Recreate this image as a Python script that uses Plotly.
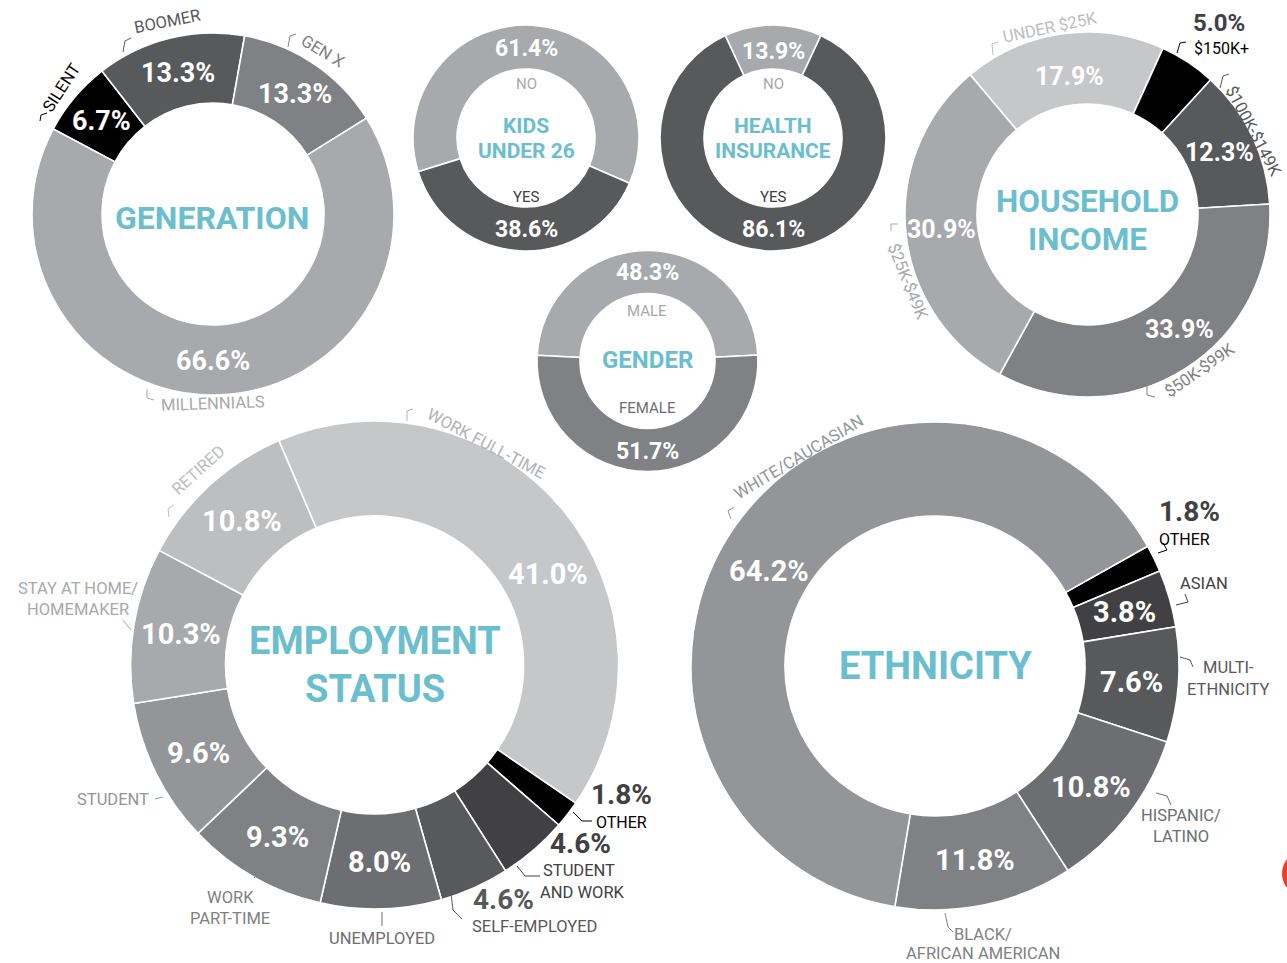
import math
import plotly.graph_objects as go

W, H = 1287, 963
TEAL = "#6bbecd"
FONT = "Roboto"

# ---------------- data ----------------
gen_labels = ["SILENT", "BOOMER", "GEN X", "MILLENNIALS"]
gen_values = [6.7, 13.3, 13.3, 66.6]
gen_colors = ["#000000", "#58595b", "#808184", "#a7a9ac"]

kids_labels = ["NO", "YES"]
kids_values = [61.4, 38.6]
kids_colors = ["#a7a9ac", "#58595b"]

health_labels = ["NO", "YES"]
health_values = [13.9, 86.1]
health_colors = ["#a7a9ac", "#58595b"]

gender_labels = ["MALE", "FEMALE"]
gender_values = [48.3, 51.7]
gender_colors = ["#a7a9ac", "#808184"]

income_labels = ["UNDER $25K", "$150K+", "$100K-$149K", "$50K-$99K", "$25K-$49K"]
income_values = [17.9, 5.0, 12.3, 33.9, 30.9]
income_colors = ["#c6c7c9", "#000000", "#58595b", "#808184", "#a7a9ac"]

emp_labels = ["WORK FULL-TIME", "OTHER", "STUDENT AND WORK", "SELF-EMPLOYED",
              "UNEMPLOYED", "WORK PART-TIME", "STUDENT", "STAY AT HOME/HOMEMAKER", "RETIRED"]
emp_values = [41.0, 1.8, 4.6, 4.6, 8.0, 9.3, 9.6, 10.3, 10.8]
emp_colors = ["#c6c7c9", "#000000", "#414042", "#58595b", "#6d6e71",
              "#808184", "#939598", "#a7a9ac", "#bcbec0"]

eth_labels = ["OTHER", "ASIAN", "MULTI-ETHNICITY", "HISPANIC/LATINO",
              "BLACK/AFRICAN AMERICAN", "WHITE/CAUCASIAN"]
eth_values = [1.8, 3.8, 7.6, 10.8, 11.8, 64.2]
eth_colors = ["#000000", "#414042", "#58595b", "#6d6e71", "#808184", "#939598"]

# ---------------- layout of donuts (pixel geometry) ----------------
charts = [
    dict(labels=gen_labels, values=gen_values, colors=gen_colors, cx=213, cy=214, ro=181, ri=111,
         rot=-62, fs=27, over={3: (180, None)}, outside={}),
    dict(labels=kids_labels, values=kids_values, colors=kids_colors, cx=526, cy=138, ro=113, ri=69,
         rot=-107.4, fs=23, over={0: (0, None), 1: (180, None)}, outside={}),
    dict(labels=health_labels, values=health_values, colors=health_colors, cx=773, cy=138, ro=113, ri=69,
         rot=-25, fs=23, over={0: (0, 88), 1: (180, None)}, outside={}),
    dict(labels=gender_labels, values=gender_values, colors=gender_colors, cx=647.5, cy=361, ro=110.5, ri=67.5,
         rot=-87, fs=23, over={0: (0, None), 1: (180, None)}, outside={}),
    dict(labels=income_labels, values=income_values, colors=income_colors, cx=1087.5, cy=214.5, ro=182.5, ri=110.5,
         rot=-40, fs=25, over={0: (-7.5, 140), 3: (141, None)}, outside={1}),
    dict(labels=emp_labels, values=emp_values, colors=emp_colors, cx=374.6, cy=665, ro=244, ri=149,
         rot=-23.1, fs=29, over={0: (62, None)}, outside={1, 2, 3}),
    dict(labels=eth_labels, values=eth_values, colors=eth_colors, cx=935, cy=666, ro=244, ri=150,
         rot=60.6, fs=29, over={5: (300, 192)}, outside={0}),
]


def px(x):
    return x / W


def py(y):
    return 1 - y / H


fig = go.Figure()
annotations = []


def add_text(text, x, y, size=16.5, color="#414042", bold=False, angle=0, xanchor="center", yanchor="middle"):
    annotations.append(dict(
        text=text, x=px(x), y=py(y), xref="paper", yref="paper", showarrow=False,
        xanchor=xanchor, yanchor=yanchor, textangle=angle, borderpad=0,
        font=dict(family=FONT, size=size, color=color, weight="bold" if bold else "normal"),
    ))


for c in charts:
    fig.add_trace(go.Pie(
        labels=c["labels"], values=c["values"], sort=False, direction="clockwise",
        rotation=c["rot"], hole=c["ri"] / c["ro"],
        marker=dict(colors=c["colors"], line=dict(color="white", width=1.6)),
        textinfo="none", hoverinfo="label+value", showlegend=False,
        domain=dict(x=[px(c["cx"] - c["ro"]), px(c["cx"] + c["ro"])],
                    y=[py(c["cy"] + c["ro"]), py(c["cy"] - c["ro"])]),
    ))
    total = sum(c["values"])
    start = c["rot"]
    for i, v in enumerate(c["values"]):
        span = v / total * 360
        mid = start + span / 2
        start += span
        if i in c["outside"]:
            continue
        rr = (c["ro"] + c["ri"]) / 2
        if i in c["over"]:
            a, r2 = c["over"][i]
            mid = a
            if r2 is not None:
                rr = r2
        x = c["cx"] + rr * math.sin(math.radians(mid))
        y = c["cy"] - rr * math.cos(math.radians(mid))
        add_text(f"{v:.1f}%", x, y + 1, size=c["fs"], color="white", bold=True)

# ---------------- centre titles ----------------
add_text("GENERATION", 212, 218, 32, TEAL, True)
add_text("KIDS", 526, 126, 21, TEAL, True)
add_text("UNDER 26", 526, 151, 21, TEAL, True)
add_text("HEALTH", 773, 126, 21, TEAL, True)
add_text("INSURANCE", 773, 151, 21, TEAL, True)
add_text("GENDER", 647, 360, 24, TEAL, True)
add_text("HOUSEHOLD", 1087, 201, 31.5, TEAL, True)
add_text("INCOME", 1087, 239, 31.5, TEAL, True)
add_text("EMPLOYMENT", 375, 641, 38, TEAL, True)
add_text("STATUS", 375, 689, 38, TEAL, True)
add_text("ETHNICITY", 935, 666, 38, TEAL, True)

# ---------------- category labels ----------------
add_text("SILENT", 62, 88, color="#000000", angle=-57)
add_text("BOOMER", 167, 22, color="#58595b", angle=-11)
add_text("GEN X", 323, 52, color="#808184", angle=31)
add_text("MILLENNIALS", 213, 403, color="#a7a9ac", angle=-2)

add_text("NO", 526, 84, 15, "#a7a9ac")
add_text("YES", 526, 197, 15, "#414042")
add_text("NO", 773, 84, 15, "#a7a9ac")
add_text("YES", 773, 197, 15, "#414042")
add_text("MALE", 647, 311, 15, "#a7a9ac")
add_text("FEMALE", 647, 408, 15, "#6d6e71")

# outside percentages (value taken from the data arrays)
add_text(f"{income_values[1]:.1f}%", 1219, 38, 24, "#414042", True, yanchor="bottom")
add_text("$150K+", 1221, 38, 16, "#000000", yanchor="top")
add_text("UNDER $25K", 1050, 27, color="#bcbec0", angle=-12)
add_text("$100K-$149K", 1254, 131, color="#58595b", angle=62)
add_text("$50K-$99K", 1199, 370, color="#808184", angle=-35)
add_text("$25K-$49K", 908, 281, color="#a7a9ac", angle=68)

add_text(f"{emp_values[1]:.1f}%", 621, 812, 28, "#414042", True, yanchor="bottom")
add_text("OTHER", 621, 812, 16, "#000000", yanchor="top")
add_text(f"{emp_values[2]:.1f}%", 580, 861, 28, "#414042", True, yanchor="bottom")
add_text("STUDENT", 579, 860, color="#414042", yanchor="top")
add_text("AND WORK", 582, 892, color="#414042")
add_text(f"{emp_values[3]:.1f}%", 503, 917, 28, "#58595b", True, yanchor="bottom")
add_text("SELF-EMPLOYED", 534, 916, color="#58595b", yanchor="top")
add_text("UNEMPLOYED", 382, 938, color="#6d6e71")
add_text("WORK", 230, 897, color="#808184")
add_text("PART-TIME", 230, 918, color="#808184")
add_text("STUDENT", 113, 799, color="#939598")
add_text("STAY AT HOME/", 78, 588, color="#a7a9ac")
add_text("HOMEMAKER", 78, 609, color="#a7a9ac")
add_text("RETIRED", 198, 470, color="#bcbec0", angle=-42)
add_text("WORK FULL-TIME", 486, 443, color="#b1b3b6", angle=28)

add_text(f"{eth_values[0]:.1f}%", 1189, 529, 28, "#414042", True, yanchor="bottom")
add_text("OTHER", 1184, 529, 16, "#000000", yanchor="top")
add_text("ASIAN", 1204, 583, color="#414042")
add_text("MULTI-", 1228, 667, color="#58595b")
add_text("ETHNICITY", 1228, 689, color="#58595b")
add_text("HISPANIC/", 1181, 815, color="#6d6e71")
add_text("LATINO", 1181, 836, color="#6d6e71")
add_text("BLACK/", 983, 934, color="#808184")
add_text("AFRICAN AMERICAN", 983, 953, color="#808184")
add_text("WHITE/CAUCASIAN", 798, 457, color="#939598", angle=-31)

shapes = [
    dict(type="circle", xref="paper", yref="paper", x0=px(1282), x1=px(1330), y0=py(897), y1=py(850),
         fillcolor="#e8402a", line=dict(width=0), layer="above"),
]


def leader(points, color):
    path = "M " + " L ".join(f"{px(x)},{py(y)}" for x, y in points)
    shapes.append(dict(type="path", xref="paper", yref="paper", path=path,
                       line=dict(color=color, width=1)))


# leader lines
leader([(573, 812), (582, 821), (592, 821)], "#000000")
leader([(517, 866), (525, 876), (540, 876)], "#414042")
leader([(451, 893), (453, 910), (462, 919)], "#58595b")
leader([(382, 912), (382, 926)], "#6d6e71")
leader([(254, 878), (260, 872)], "#808184")
leader([(155, 799), (163, 797)], "#939598")
leader([(123, 620), (131, 630)], "#a7a9ac")
leader([(1163, 543), (1167, 550), (1158, 553)], "#000000")
leader([(1185, 594), (1188, 602), (1176, 605)], "#414042")
leader([(1180, 657), (1190, 660), (1193, 667)], "#58595b")
leader([(1156, 793), (1167, 796), (1171, 805)], "#6d6e71")
leader([(945, 913), (948, 927), (953, 932)], "#808184")
# small label brackets
leader([(123, 52), (125, 41), (131, 38)], "#58595b")
leader([(288, 47), (290, 36), (296, 34)], "#808184")
leader([(40, 121), (41, 115), (47, 113)], "#000000")
leader([(147, 389), (147, 398), (154, 400)], "#a7a9ac")
leader([(993, 55), (992, 44), (998, 42)], "#bcbec0")
leader([(1177, 53), (1180, 43), (1186, 42)], "#000000")
leader([(1220, 88), (1223, 76), (1229, 74)], "#58595b")
leader([(1147, 386), (1147, 395), (1155, 397)], "#808184")
leader([(891, 231), (891, 224), (898, 224)], "#a7a9ac")
leader([(169, 517), (168, 509), (174, 505)], "#bcbec0")
leader([(407, 421), (407, 411), (413, 409)], "#b1b3b6")
leader([(731, 519), (728, 511), (734, 507)], "#939598")

fig.update_layout(
    width=W, height=H, margin=dict(l=0, r=0, t=0, b=0),
    paper_bgcolor="white", plot_bgcolor="white",
    annotations=annotations, shapes=shapes,
)

fig.write_html("out.html", config={"displayModeBar": False},
               post_script="document.body.style.margin='0px';")
